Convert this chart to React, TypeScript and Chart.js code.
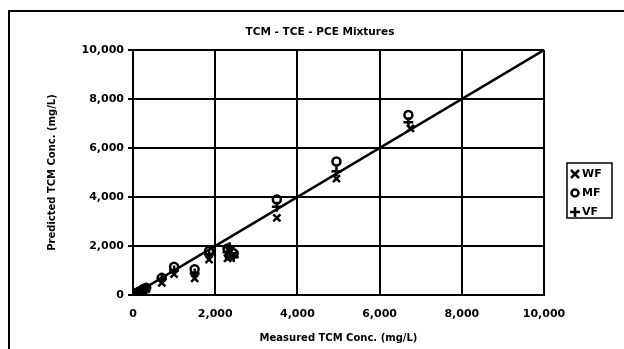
import React, { useEffect, useRef } from "react";
import { Chart, registerables } from "chart.js";

Chart.register(...registerables);

const chartTitle = "TCM - TCE - PCE Mixtures";
const xTitle = "Measured TCM Conc. (mg/L)";
const yTitle = "Predicted TCM Conc. (mg/L)";
const tickValues = [0, 2000, 4000, 6000, 8000, 10000];

const wfPoints = [
  { x: 50, y: 40 }, { x: 150, y: 100 }, { x: 250, y: 170 }, { x: 320, y: 240 },
  { x: 700, y: 500 }, { x: 1000, y: 850 }, { x: 1500, y: 680 }, { x: 1850, y: 1450 },
  { x: 2300, y: 1500 }, { x: 2450, y: 1650 }, { x: 2350, y: 1800 },
  { x: 3500, y: 3150 }, { x: 4950, y: 4750 }, { x: 6750, y: 6800 },
];
const mfPoints = [
  { x: 50, y: 60 }, { x: 150, y: 140 }, { x: 250, y: 250 }, { x: 320, y: 300 },
  { x: 700, y: 700 }, { x: 1000, y: 1150 }, { x: 1500, y: 1050 }, { x: 1850, y: 1800 },
  { x: 2300, y: 1900 }, { x: 2450, y: 1700 }, { x: 2350, y: 1600 },
  { x: 3500, y: 3900 }, { x: 4950, y: 5450 }, { x: 6700, y: 7350 },
];
const vfPoints = [
  { x: 50, y: 50 }, { x: 150, y: 120 }, { x: 250, y: 220 }, { x: 320, y: 280 },
  { x: 700, y: 650 }, { x: 1000, y: 1000 }, { x: 1500, y: 880 }, { x: 1850, y: 1650 },
  { x: 2300, y: 1750 }, { x: 2450, y: 1550 }, { x: 2350, y: 1950 },
  { x: 3500, y: 3600 }, { x: 4950, y: 5050 }, { x: 6700, y: 7050 },
];
const linePoints = [
  { x: 0, y: 0 },
  { x: 10000, y: 10000 },
];
const legendLabels = ["WF", "MF", "VF"];
const legendStyles = ["crossRot", "circle", "cross"];

const FONT = "'DejaVu Sans', sans-serif";

const framePlugin = {
  id: "frame",
  afterDraw(chart: any) {
    const ctx = chart.ctx;
    ctx.save();
    ctx.strokeStyle = "#000";
    ctx.lineWidth = 2;
    ctx.strokeRect(9, 11, 640, 360);
    // title
    ctx.fillStyle = "#000";
    ctx.font = `bold 10.5px ${FONT}`;
    ctx.textAlign = "center";
    ctx.textBaseline = "middle";
    ctx.fillText(chartTitle, 320, 32);
    // legend
    const bx = 567, by = 163, bw = 45, bh = 55;
    ctx.lineWidth = 1.5;
    ctx.strokeRect(bx, by, bw, bh);
    ctx.textAlign = "left";
    ctx.font = `bold 11px ${FONT}`;
    legendLabels.forEach((lab, i) => {
      const cy = 174 + i * 19;
      const cx = 575;
      ctx.lineWidth = 2.5;
      ctx.beginPath();
      const st = legendStyles[i];
      if (st === "crossRot") {
        ctx.moveTo(cx - 4, cy - 4); ctx.lineTo(cx + 4, cy + 4);
        ctx.moveTo(cx + 4, cy - 4); ctx.lineTo(cx - 4, cy + 4);
      } else if (st === "circle") {
        ctx.arc(cx, cy, 3.5, 0, Math.PI * 2);
      } else {
        ctx.moveTo(cx - 5, cy); ctx.lineTo(cx + 5, cy);
        ctx.moveTo(cx, cy - 5); ctx.lineTo(cx, cy + 5);
      }
      ctx.stroke();
      ctx.fillText(lab, 582, cy + 0.5);
    });
    ctx.restore();
  },
};

export default function App() {
  const ref = useRef<HTMLCanvasElement | null>(null);
  useEffect(() => {
    if (!ref.current) return;
    const mk = (label: string, data: any[], style: string) => ({
      type: "scatter" as const,
      label,
      data,
      pointStyle: style,
      pointRadius: style === "circle" ? 4 : 5,
      borderColor: "#000",
      backgroundColor: "transparent",
      pointBorderWidth: 2.5,
      showLine: false,
    });
    const chart = new Chart(ref.current, {
      type: "scatter",
      data: {
        datasets: [
          {
            type: "line" as const,
            label: "1:1",
            data: linePoints,
            borderColor: "#000",
            borderWidth: 2.5,
            pointRadius: 0,
            fill: false,
          } as any,
          mk("WF", wfPoints, "crossRot"),
          mk("MF", mfPoints, "circle"),
          mk("VF", vfPoints, "cross"),
        ],
      },
      options: {
        animation: false,
        responsive: false,
        maintainAspectRatio: false,
        layout: { padding: { top: 50, right: 80, bottom: 0, left: 0 } },
        plugins: {
          legend: { display: false },
          title: { display: false },
          tooltip: { enabled: false },
        },
        scales: {
          x: {
            type: "linear",
            min: 0,
            max: 10000,
            afterBuildTicks: (s: any) => {
              s.ticks = tickValues.map((v) => ({ value: v }));
            },
            afterFit: (s: any) => {
              s.height = 54;
            },
            grid: { color: "#000", lineWidth: 2, drawTicks: false },
            border: { color: "#000", width: 2 },
            ticks: {
              color: "#000",
              padding: 13,
              maxRotation: 0,
              font: { family: FONT, size: 11, weight: "bold" },
              callback: (v: any) => Number(v).toLocaleString("en-US"),
            },
            title: {
              display: true,
              text: xTitle,
              color: "#000",
              font: { family: FONT, size: 10, weight: "bold" },
              padding: { top: 0, bottom: 5 },
            },
          },
          y: {
            type: "linear",
            min: 0,
            max: 10000,
            afterBuildTicks: (s: any) => {
              s.ticks = tickValues.map((v) => ({ value: v }));
            },
            afterFit: (s: any) => {
              s.width = 133;
            },
            grid: { color: "#000", lineWidth: 2, drawTicks: true, tickLength: 5 },
            border: { color: "#000", width: 2 },
            ticks: {
              color: "#000",
              padding: 4,
              font: { family: FONT, size: 11, weight: "bold" },
              callback: (v: any) => Number(v).toLocaleString("en-US"),
            },
            title: {
              display: true,
              text: yTitle,
              color: "#000",
              font: { family: FONT, size: 10, weight: "bold" },
              padding: { top: 46, bottom: 0 },
            },
          },
        },
      },
      plugins: [framePlugin],
    });
    return () => chart.destroy();
  }, []);
  return (
    <div style={{ position: "absolute", left: 0, top: 0, width: 624, height: 349, background: "#fff" }}>
      <canvas ref={ref} width={624} height={349} style={{ display: "block" }} />
    </div>
  );
}
